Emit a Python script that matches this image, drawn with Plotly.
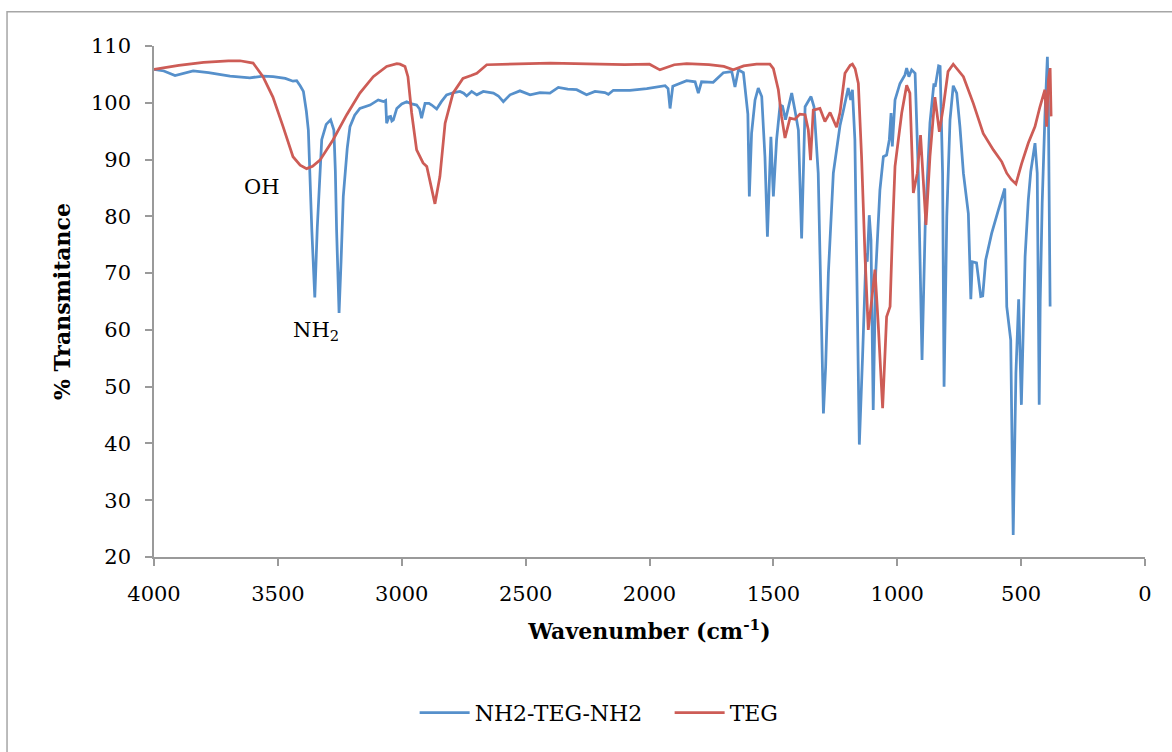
import plotly.graph_objects as go

# FTIR spectrum of the diamine (NH2-TEG-NH2): wavenumber (cm-1) and % transmittance
amine_wn = [4000, 3960, 3915, 3880, 3842, 3780, 3693, 3613, 3560, 3519, 3470, 3439, 3424, 3410,
            3397, 3385, 3377, 3363, 3351, 3341, 3330, 3323, 3305, 3287, 3274, 3268, 3263, 3253,
            3245, 3236, 3220, 3209, 3190, 3169, 3128, 3095, 3074, 3065, 3061, 3052, 3045, 3040,
            3034, 3020, 3000, 2980, 2960, 2940, 2928, 2920, 2906, 2890, 2879, 2859, 2840, 2819,
            2790, 2765, 2750, 2738, 2718, 2697, 2671, 2630, 2610, 2590, 2563, 2523, 2482, 2442,
            2402, 2368, 2330, 2294, 2254, 2220, 2180, 2166, 2146, 2079, 2011, 1960, 1937, 1925,
            1917, 1906, 1850, 1816, 1803, 1790, 1743, 1702, 1668, 1655, 1641, 1621, 1612, 1603,
            1597, 1588, 1574, 1561, 1547, 1534, 1524, 1517, 1510, 1500, 1487, 1473, 1463, 1451,
            1426, 1413, 1399, 1386, 1372, 1348, 1336, 1319, 1305, 1298, 1289, 1278, 1258, 1231,
            1218, 1198, 1188, 1181, 1171, 1161, 1153, 1140, 1126, 1121, 1113, 1106, 1097, 1087,
            1070, 1056, 1043, 1032, 1025, 1020, 1009, 989, 969, 962, 953, 942, 928, 915,
            900, 887, 868, 852, 847, 833, 827, 817, 811, 800, 787, 774, 760, 747,
            733, 713, 703, 697, 680, 663, 655, 643, 619, 592, 572, 566, 558, 549,
            542, 532, 521, 510, 499, 484, 471, 461, 444, 435, 427, 423, 415, 404,
            394, 390, 383]
amine_t = [105.9, 105.6, 104.8, 105.2, 105.6, 105.3, 104.7, 104.4, 104.7, 104.6, 104.3, 103.8, 103.9, 103.0,
           102.0, 98.5, 95.2, 77.6, 65.7, 78.0, 89.0, 93.5, 96.2, 97.0, 95.2, 88.0, 77.6, 63.0,
           72.0, 83.5, 92.0, 95.8, 97.8, 99.0, 99.6, 100.5, 100.2, 100.4, 96.4, 97.5, 97.6, 96.8,
           97.0, 99.0, 99.8, 100.2, 99.8, 99.6, 98.9, 97.3, 99.9, 99.9, 99.6, 98.9, 100.2, 101.4,
           101.8, 102.0, 101.7, 101.2, 102.0, 101.4, 102.0, 101.7, 101.2, 100.2, 101.4, 102.1, 101.4, 101.8,
           101.7, 102.7, 102.4, 102.3, 101.4, 102.0, 101.8, 101.5, 102.2, 102.2, 102.5, 102.8, 103.0, 102.5,
           99.0, 102.9, 103.9, 103.7, 101.7, 103.7, 103.6, 105.3, 105.5, 102.8, 105.8, 105.3, 101.5, 98.0,
           83.5, 94.6, 100.5, 102.6, 101.1, 90.5, 76.4, 86.0, 94.0, 83.5, 93.5, 99.6, 99.4, 97.0,
           101.7, 98.7, 95.2, 76.1, 99.3, 101.1, 99.3, 87.6, 58.2, 45.3, 53.5, 70.0, 87.6, 96.0,
           98.5, 102.6, 100.5, 102.3, 93.5, 64.1, 39.8, 55.3, 73.5, 72.0, 80.2, 75.8, 45.9, 70.0,
           84.6, 90.5, 90.8, 93.5, 98.2, 92.3, 100.5, 103.4, 104.9, 106.1, 104.6, 105.8, 105.2, 87.6,
           54.7, 78.8, 96.4, 103.4, 102.8, 106.5, 106.4, 87.6, 50.0, 80.0, 97.0, 103.0, 101.7, 95.8,
           87.6, 80.5, 65.4, 72.0, 71.8, 65.9, 66.0, 72.3, 77.0, 81.1, 83.8, 84.9, 64.1, 60.0,
           58.2, 23.9, 52.4, 65.4, 46.8, 72.9, 82.9, 87.9, 92.9, 87.6, 46.8, 65.0, 82.3, 97.6,
           108.1, 99.3, 64.1]

# FTIR spectrum of triethylene glycol (TEG)
teg_wn = [4000, 3900, 3800, 3700, 3653, 3620, 3600, 3560, 3520, 3479, 3439, 3410, 3384, 3360,
          3330, 3277, 3222, 3169, 3115, 3061, 3020, 3007, 2987, 2975, 2960, 2940, 2914, 2899,
          2885, 2866, 2846, 2825, 2793, 2753, 2720, 2697, 2657, 2576, 2500, 2400, 2300, 2200,
          2100, 2000, 1958, 1900, 1850, 1760, 1700, 1662, 1620, 1568, 1514, 1500, 1480, 1467,
          1453, 1433, 1413, 1393, 1372, 1359, 1350, 1339, 1312, 1292, 1271, 1245, 1231, 1211,
          1190, 1181, 1170, 1157, 1144, 1130, 1117, 1103, 1090, 1077, 1059, 1043, 1029, 1019,
          1009, 982, 962, 949, 935, 919, 906, 884, 868, 848, 830, 814, 795, 774,
          733, 693, 653, 612, 578, 558, 540, 521, 498, 471, 444, 424, 404, 397,
          390, 383, 379]
teg_t = [105.9, 106.6, 107.1, 107.4, 107.4, 107.2, 107.0, 104.6, 101.0, 95.8, 90.5, 89.0, 88.4, 88.8,
         89.9, 93.5, 97.9, 101.7, 104.6, 106.4, 106.9, 106.8, 106.4, 104.6, 98.2, 91.7, 89.4, 88.8,
         86.0, 82.2, 87.0, 96.4, 101.7, 104.3, 104.8, 105.2, 106.7, 106.8, 106.9, 107.0, 106.9, 106.8,
         106.7, 106.8, 105.8, 106.7, 106.9, 106.7, 106.4, 105.8, 106.5, 106.8, 106.8, 106.0, 102.3, 97.6,
         93.8, 97.3, 97.1, 98.0, 97.9, 95.2, 89.9, 98.7, 99.0, 96.7, 98.3, 95.7, 98.3, 105.2,
         106.6, 106.8, 106.0, 103.4, 90.5, 72.9, 60.0, 65.3, 70.6, 61.2, 46.2, 62.3, 64.1, 77.6,
         88.8, 98.2, 103.1, 101.7, 84.1, 87.6, 94.3, 78.5, 90.5, 101.0, 94.9, 99.3, 105.5, 106.8,
         104.6, 99.9, 94.6, 91.7, 89.6, 87.6, 86.5, 85.7, 89.3, 92.9, 95.8, 99.3, 102.3, 95.8,
         104.0, 106.1, 97.6]

x_ticks = [4000, 3500, 3000, 2500, 2000, 1500, 1000, 500, 0]
y_ticks = [20, 30, 40, 50, 60, 70, 80, 90, 100, 110]

BLUE = "#5690CB"
RED = "#CD5C56"
AXIS = "#9A9A9A"
FONT = "DejaVu Serif"

fig = go.Figure()
fig.add_trace(go.Scatter(x=amine_wn, y=amine_t, mode="lines", name="NH2-TEG-NH2",
                         line=dict(color=BLUE, width=2.75)))
fig.add_trace(go.Scatter(x=teg_wn, y=teg_t, mode="lines", name="TEG",
                         line=dict(color=RED, width=2.75)))

# band labels
fig.add_annotation(x=3564, y=85.2, text="OH", showarrow=False,
                   font=dict(family=FONT, size=21, color="black"))
fig.add_annotation(x=3346, y=59.8, text="NH<sub>2</sub>", showarrow=False,
                   font=dict(family=FONT, size=21, color="black"))

# chart frame
fig.add_shape(type="rect", xref="paper", yref="paper",
              x0=-0.1483, y0=1.067, x1=1.1, y1=-0.45,
              line=dict(color="#A6A6A6", width=1.5), layer="below")

fig.update_layout(
    width=1172, height=752,
    margin=dict(l=154, r=27, t=46, b=195),
    paper_bgcolor="white", plot_bgcolor="white",
    font=dict(family=FONT, size=21, color="black"),
    showlegend=True,
    legend=dict(orientation="h", x=0.263, xanchor="left", y=-0.305, yanchor="middle",
                font=dict(family=FONT, size=22, color="black"), itemwidth=50,
                entrywidth=190, traceorder="normal"),
    xaxis=dict(range=[4000, 0], tickvals=x_ticks, ticks="outside", ticklen=7,
               tickcolor=AXIS, tickwidth=1.5, showline=True, linecolor=AXIS, linewidth=1.5,
               showgrid=False, zeroline=False, tickfont=dict(family=FONT, size=21),
               ticklabelstandoff=10,
               title=dict(text="<b>Wavenumber (cm<sup>-1</sup>)</b>", standoff=19,
                          font=dict(family=FONT, size=22))),
    yaxis=dict(range=[20, 110], tickvals=y_ticks, ticks="outside", ticklen=7,
               tickcolor=AXIS, tickwidth=1.5, showline=True, linecolor=AXIS, linewidth=1.5,
               showgrid=False, zeroline=False, tickfont=dict(family=FONT, size=21),
               ticklabelstandoff=10,
               title=dict(text="<b>% Transmitance</b>", standoff=14,
                          font=dict(family=FONT, size=22))),
)

fig.write_html("out.html")
